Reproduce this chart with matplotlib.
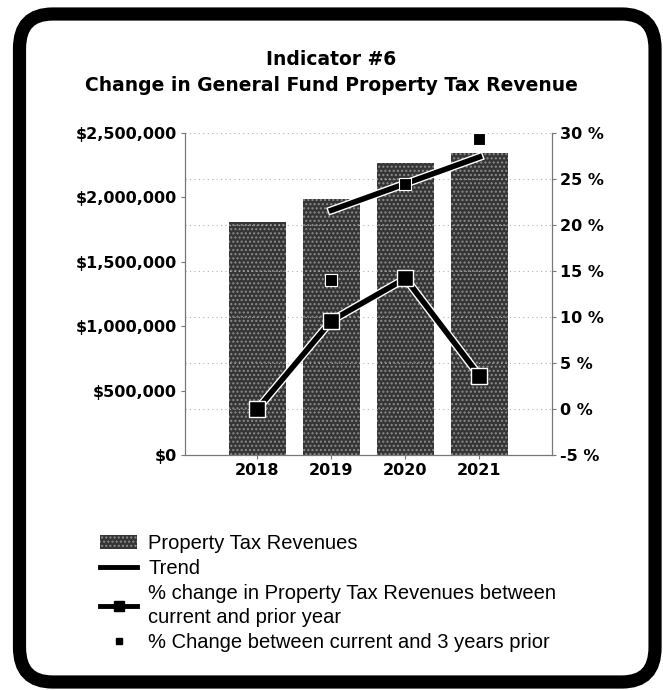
import matplotlib
matplotlib.use("Agg")
import matplotlib.pyplot as plt
from matplotlib.patches import FancyBboxPatch, Patch
from matplotlib.lines import Line2D
import matplotlib.patheffects as pe
from matplotlib.ticker import FuncFormatter

years = ["2018", "2019", "2020", "2021"]
revenues = [1811000, 1988000, 2265000, 2347000]
pct_change_prior = [0.0, 9.6, 14.2, 3.6]
pct_change_3yr_years = ["2019", "2020", "2021"]
pct_change_3yr = [14.0, 24.5, 29.4]
trend_years = ["2019", "2020", "2021"]
trend_values = [21.6, 24.5, 27.4]

title = "Indicator #6\nChange in General Fund Property Tax Revenue"
legend_labels = ["Property Tax Revenues", "Trend",
                 "% change in Property Tax Revenues between\ncurrent and prior year",
                 "% Change between current and 3 years prior"]

plt.rcParams["hatch.linewidth"] = 1.0

fig = plt.figure(figsize=(6.63, 6.90), dpi=100)
ax = fig.add_axes([0.279, 0.3406, 0.5536, 0.4666])
ax2 = ax.twinx()

xi = list(range(len(years)))
bar_kw = dict(width=0.77, color="#353535", edgecolor="#8c8c8c", hatch="....", linewidth=0)
ax.bar(xi, revenues, **bar_kw, zorder=2)
ax.set_ylim(0, 2500000)
ax.set_xlim(-0.98, 3.98)
ax.set_yticks(range(0, 2500001, 500000))
ax.yaxis.set_major_formatter(FuncFormatter(lambda v, p: "${:,.0f}".format(v)))
ax.set_xticks(xi)
ax.set_xticklabels(years)

ax2.set_ylim(-5, 30)
ax2.set_yticks(range(-5, 31, 5))
ax2.yaxis.set_major_formatter(FuncFormatter(lambda v, p: "{:.0f} %".format(v)))
for t in range(-5, 31, 5):
    ax2.axhline(t, color="#b0b0b0", lw=0.8, ls=(0, (1, 3)), zorder=1)

halo = [pe.Stroke(linewidth=6, foreground="white"), pe.Normal()]
ax2.plot(xi, pct_change_prior, color="black", lw=4, path_effects=halo, zorder=4)
ax2.plot(xi, pct_change_prior, ls="none", marker="s", markersize=11, color="black",
         markeredgecolor="white", markeredgewidth=1, zorder=4.5)
tx = [years.index(y) for y in trend_years]
ax2.plot(tx, trend_values, color="black", lw=4, path_effects=halo, zorder=4)
px = [years.index(y) for y in pct_change_3yr_years]
ax2.plot(px, pct_change_3yr, ls="none", marker="s", markersize=8, color="black",
         markeredgecolor="white", markeredgewidth=0.8, zorder=5)

for a in (ax, ax2):
    for s in a.spines.values():
        s.set_color("#777777")
        s.set_linestyle((0, (2, 1)))
        s.set_linewidth(0.8)
    a.spines["top"].set_visible(False)
    a.tick_params(length=3, color="#777777", width=0.8, labelsize=11.5, pad=3)
    for lbl in a.get_yticklabels() + a.get_xticklabels():
        lbl.set_fontweight("bold")
ax.patch.set_visible(False)
ax2.patch.set_visible(False)

fig.text(0.5, 0.895, title, ha="center", va="center", fontsize=13.5,
         fontweight="bold", linespacing=1.45)

handles = [Patch(facecolor="#353535", edgecolor="#8c8c8c", hatch="....", linewidth=0),
           Line2D([], [], color="black", lw=3.5),
           Line2D([], [], color="black", lw=3.5, marker="s", markersize=7),
           Line2D([], [], ls="none", color="black", marker="s", markersize=5)]
leg = fig.legend(handles, legend_labels, loc="upper left", bbox_to_anchor=(0.151, 0.226),
                 frameon=False, handlelength=1.85, handletextpad=0.55,
                 labelspacing=0.3, borderaxespad=0, borderpad=0,
                 prop={"family": "Liberation Sans", "size": 14.5})
for t in leg.get_texts():
    t.set_linespacing(1.3)

frame = FancyBboxPatch((0.0294, 0.0116), 0.9586, 0.9681,
                       boxstyle="round,pad=0,rounding_size=0.05",
                       transform=fig.transFigure, facecolor="none",
                       edgecolor="black", linewidth=9.5, zorder=10)
fig.patches.append(frame)

fig.savefig("out.png", dpi=100)
